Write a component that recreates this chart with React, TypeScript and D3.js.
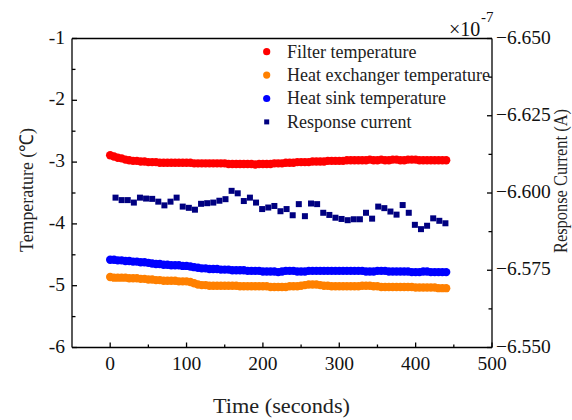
import React from 'react';
import * as d3 from 'd3';

// temperatures are logged every 5 s, the response current every 8 s
const tempTimes = d3.range(0, 441, 5);
const currentTimes = d3.range(7, 440, 8);

const filterTemp = [
  -2.89, -2.91, -2.93, -2.94, -2.96, -2.97, -2.98, -2.98, -2.99, -2.99,
  -3.00, -3.00, -3.00, -3.01, -3.01, -3.01, -3.01, -3.01, -3.01, -3.01,
  -3.01, -3.01, -3.02, -3.02, -3.02, -3.02, -3.02, -3.02, -3.02, -3.02,
  -3.02, -3.03, -3.03, -3.03, -3.03, -3.03, -3.03, -3.03, -3.04, -3.03,
  -3.03, -3.03, -3.03, -3.02, -3.02, -3.02, -3.01, -3.01, -3.01, -3.00,
  -3.00, -3.00, -3.00, -2.99, -2.99, -2.99, -2.99, -2.98, -2.98, -2.98,
  -2.98, -2.98, -2.97, -2.97, -2.97, -2.97, -2.97, -2.97, -2.96, -2.97,
  -2.97, -2.96, -2.97, -2.97, -2.96, -2.96, -2.97, -2.97, -2.96, -2.96,
  -2.96, -2.97, -2.97, -2.97, -2.97, -2.97, -2.97, -2.97, -2.97,
];

const exchangerTemp = [
  -4.86, -4.87, -4.87, -4.87, -4.87, -4.88, -4.88, -4.88, -4.89, -4.89,
  -4.90, -4.90, -4.91, -4.91, -4.92, -4.92, -4.92, -4.92, -4.93, -4.93,
  -4.93, -4.94, -4.96, -4.98, -4.99, -4.99, -5.00, -5.00, -5.00, -5.00,
  -5.00, -5.00, -5.00, -5.00, -5.01, -5.01, -5.01, -5.01, -5.01, -5.01,
  -5.01, -5.01, -5.02, -5.02, -5.02, -5.02, -5.02, -5.01, -5.01, -5.01,
  -5.00, -4.99, -4.98, -4.98, -4.98, -4.99, -5.00, -5.00, -5.01, -5.01,
  -5.01, -5.01, -5.01, -5.01, -5.01, -5.01, -5.00, -5.00, -5.00, -5.01,
  -5.01, -5.02, -5.02, -5.02, -5.02, -5.02, -5.02, -5.02, -5.02, -5.02,
  -5.03, -5.03, -5.03, -5.03, -5.03, -5.03, -5.04, -5.04, -5.04,
];

const sinkTemp = [
  -4.58, -4.58, -4.59, -4.59, -4.60, -4.60, -4.61, -4.61, -4.62, -4.62,
  -4.63, -4.64, -4.65, -4.65, -4.66, -4.66, -4.67, -4.67, -4.67, -4.68,
  -4.68, -4.69, -4.70, -4.71, -4.72, -4.72, -4.73, -4.73, -4.73, -4.74,
  -4.74, -4.74, -4.75, -4.75, -4.75, -4.75, -4.76, -4.76, -4.76, -4.76,
  -4.77, -4.77, -4.77, -4.77, -4.78, -4.77, -4.76, -4.76, -4.76, -4.77,
  -4.77, -4.77, -4.76, -4.76, -4.76, -4.76, -4.76, -4.76, -4.76, -4.76,
  -4.76, -4.76, -4.76, -4.76, -4.76, -4.76, -4.76, -4.77, -4.77, -4.77,
  -4.76, -4.76, -4.76, -4.77, -4.77, -4.77, -4.77, -4.77, -4.77, -4.78,
  -4.78, -4.78, -4.77, -4.77, -4.78, -4.78, -4.78, -4.78, -4.78,
];

// response current in units of 1e-7 A
const responseCurrent = [
  -6.5985, -6.5977, -6.5977, -6.5969, -6.5985, -6.5982, -6.5981, -6.5972, -6.5960, -6.5972,
  -6.5985, -6.5956, -6.5952, -6.5946, -6.5965, -6.5967, -6.5969, -6.5975, -6.5980, -6.6007,
  -6.5999, -6.5974, -6.5985, -6.5969, -6.5948, -6.5953, -6.5958, -6.5941, -6.5948, -6.5928,
  -6.5964, -6.5925, -6.5966, -6.5964, -6.5936, -6.5929, -6.5920, -6.5916, -6.5912, -6.5915,
  -6.5915, -6.5936, -6.5917, -6.5956, -6.5951, -6.5940, -6.5930, -6.5961, -6.5936, -6.5897,
  -6.5883, -6.5894, -6.5918, -6.5910, -6.5902,
];

const xTicks = [0, 100, 200, 300, 400, 500];
const leftTicks = [-6, -5, -4, -3, -2, -1];
const rightTicks = [-6.55, -6.575, -6.6, -6.625, -6.65];

const legendItems = [
  { label: 'Filter temperature', color: '#ff0000', shape: 'circle' },
  { label: 'Heat exchanger temperature', color: '#ff8000', shape: 'circle' },
  { label: 'Heat sink temperature', color: '#0000ff', shape: 'circle' },
  { label: 'Response current', color: '#000080', shape: 'square' },
];

const W = 572, H = 420;
const left = 72, right = 492, top = 38.5, bottom = 347.5;
const font = '"Liberation Serif", "Times New Roman", serif';

export default function App() {
  const x = d3.scaleLinear().domain([-50, 500]).range([left, right]);
  const yL = d3.scaleLinear().domain([-6, -1]).range([bottom, top]);
  const yR = d3.scaleLinear().domain([-6.55, -6.65]).range([bottom, top]);

  const tempSeries = [
    { values: exchangerTemp, color: '#ff8000' },
    { values: sinkTemp, color: '#0000ff' },
    { values: filterTemp, color: '#ff0000' },
  ];

  const xMinor = d3.range(50, 500, 100);
  const leftMinor = d3.range(-5.5, -1, 1);
  const rightMinor = [-6.5625, -6.5875, -6.6125, -6.6375];

  return (
    <svg width={W} height={H} style={{ position: 'absolute', left: 0, top: 0, background: '#fff' }}
      fontFamily={font}>
      {/* temperature dots */}
      {tempSeries.map((s, si) => (
        <g key={si} fill={s.color}>
          {s.values.map((v, i) => (
            <circle key={i} cx={x(tempTimes[i])} cy={yL(v)} r={4.2} />
          ))}
        </g>
      ))}
      {/* response current */}
      <g fill="#000080">
        {responseCurrent.map((v, i) => (
          <rect key={i} x={x(currentTimes[i]) - 3} y={yR(v) - 3} width={6} height={6} />
        ))}
      </g>

      {/* legend */}
      {legendItems.map((d, i) => {
        const cy = 51.7 + i * 23.4;
        return (
          <g key={d.label}>
            {d.shape === 'circle'
              ? <circle cx={266.7} cy={cy} r={3.6} fill={d.color} />
              : <rect x={264.2} y={cy - 2.5} width={5} height={5} fill={d.color} />}
            <text x={287} y={cy + 5.8} fontSize={18} fill="#222">{d.label}</text>
          </g>
        );
      })}

      {/* frame + axes */}
      <g stroke="#000" strokeWidth={1.3} fill="none">
        <line x1={left} x2={right} y1={top} y2={top} />
        <line x1={left} x2={right} y1={bottom} y2={bottom} />
        <line x1={left} x2={left} y1={top} y2={bottom} />
        <line x1={right} x2={right} y1={top} y2={bottom} />
        {xTicks.map(t => <line key={t} x1={x(t)} x2={x(t)} y1={bottom} y2={bottom - 5} />)}
        {xMinor.map(t => <line key={t} x1={x(t)} x2={x(t)} y1={bottom} y2={bottom - 3} />)}
        {leftTicks.map(t => <line key={t} x1={left} x2={left + 5} y1={yL(t)} y2={yL(t)} />)}
        {leftMinor.map(t => <line key={t} x1={left} x2={left + 3.5} y1={yL(t)} y2={yL(t)} />)}
        {rightTicks.map(t => <line key={t} x1={right} x2={right - 5} y1={yR(t)} y2={yR(t)} />)}
        {rightMinor.map(t => <line key={t} x1={right} x2={right - 3.5} y1={yR(t)} y2={yR(t)} />)}
      </g>

      <g fontSize={19.5} fill="#111">
        {xTicks.map(t => (
          <text key={t} x={x(t)} y={370} textAnchor="middle">{t}</text>
        ))}
        {leftTicks.map(t => (
          <text key={t} x={65} y={yL(t) + 5} textAnchor="end">{t}</text>
        ))}
        {rightTicks.map(t => (
          <text key={t} x={496} y={yR(t) + 5}>{d3.format('.3f')(t)}</text>
        ))}
      </g>

      {/* exponent of the right axis */}
      <text x={449} y={36} fontSize={20} fill="#111">×10</text>
      <text x={481} y={22} fontSize={15} fill="#111">-7</text>

      {/* axis titles */}
      <text x={281.5} y={413} fontSize={21} textAnchor="middle" fill="#222"
        textLength={137} lengthAdjust="spacingAndGlyphs">Time (seconds)</text>
      <text transform="translate(33,190) rotate(-90)" fontSize={19} textAnchor="middle" fill="#222"
        textLength={124} lengthAdjust="spacingAndGlyphs">
        Temperature (℃)
      </text>
      <text transform="translate(567,181) rotate(-90)" fontSize={19.5} textAnchor="middle" fill="#222"
        textLength={144} lengthAdjust="spacingAndGlyphs">
        Response Current (A)
      </text>
    </svg>
  );
}
